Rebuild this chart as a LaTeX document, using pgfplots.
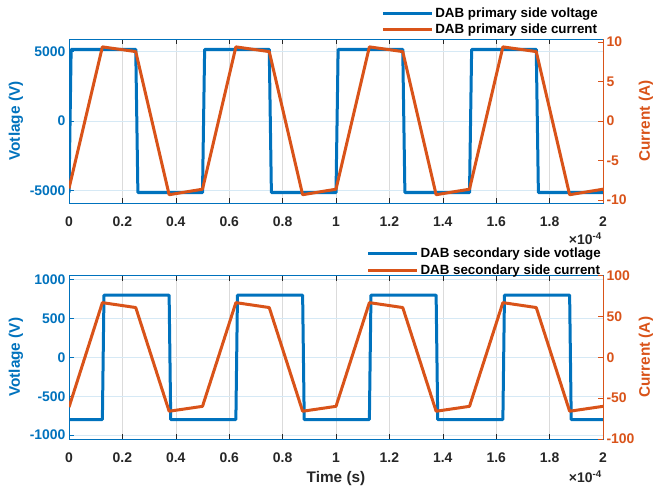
\documentclass[border=0pt]{standalone}
\usepackage{fontspec}
\setmainfont{Liberation Sans}
\usepackage{pgfplots}
\pgfplotsset{compat=1.18}

\definecolor{mblue}{RGB}{0,114,189}
\definecolor{morange}{RGB}{217,83,25}
\definecolor{mgray}{RGB}{38,38,38}
\newcommand{\tickfont}{\bfseries\fontsize{14}{16}\selectfont}
\newcommand{\labfont}{\bfseries\fontsize{15.4}{18}\selectfont}
\newcommand{\legfont}{\bfseries\fontsize{13.4}{15}\selectfont}

\pgfplotsset{
  dab/.style={
    scale only axis, width=534bp,
    xmin=0, xmax=2,
    xtick={0,0.2,0.4,0.6,0.8,1,1.2,1.4,1.6,1.8,2},
    xticklabels={0,0.2,0.4,0.6,0.8,1,1.2,1.4,1.6,1.8,2},
    scaled ticks=false,
    /pgf/number format/assume math mode=true,
    /pgf/number format/1000 sep={},
    tick label style={font=\tickfont},
    x tick label style={text=mgray, yshift=-10bp},
    tick align=inside,
    major tick length=5bp,
    axis line style={mgray, line width=0.6bp},
    xtick style={mgray, line width=0.6bp},
  },
  leftax/.style={
    dab, xtick pos=both, ytick pos=left,
    y axis line style={mblue},
    ytick style={mblue, line width=0.6bp},
    y tick label style={text=mblue},
    ylabel style={at={(axis description cs:-0.0993,0.5)}, anchor=center, font=\labfont, text=mblue},
    xmajorgrids, ymajorgrids,
    x grid style={black!14, line width=0.5bp},
    y grid style={mblue!16, line width=0.5bp},
    legend style={draw=none, fill=none, font=\legfont, at={(1,1)}, anchor=south east,
      inner sep=0pt, row sep=1.5bp},
    legend cell align=left,
    legend image code/.code={\draw[##1] (0bp,0bp) -- (49bp,0bp);},
  },
  rightax/.style={
    dab, axis x line=none, axis y line*=right,
    y axis line style={morange},
    ytick style={morange, line width=0.6bp},
    y tick label style={text=morange},
    ylabel style={at={(axis description cs:1.0805,0.5)}, anchor=center, font=\labfont, text=morange},
  },
  vline/.style={mblue, line width=3bp, line join=round},
  iline/.style={morange, line width=3bp, line join=round},
}

\begin{document}
\begin{tikzpicture}
\useasboundingbox (0,0) rectangle (657bp,489bp);

% ---- primary side ----
\begin{axis}[leftax, name=top, at={(69bp,286bp)}, height=164bp,
  ymin=-5900, ymax=5900, ytick={-5000,0,5000},
  ylabel={Votlage (V)},
  legend style={xshift=-3bp, yshift=1.5bp}]
\addplot[vline] coordinates {
  (0,-5150) (0.008,5150) (0.25,5150) (0.258,-5150)
  (0.5,-5150) (0.508,5150) (0.75,5150) (0.758,-5150)
  (1.0,-5150) (1.008,5150) (1.25,5150) (1.258,-5150)
  (1.5,-5150) (1.508,5150) (1.75,5150) (1.758,-5150) (2.0,-5150)};
\addlegendentry{DAB primary side voltage}
\addlegendimage{iline}
\addlegendentry{DAB primary side current}
\end{axis}
\begin{axis}[rightax, at={(69bp,286bp)}, height=164bp,
  ymin=-10.4, ymax=10.4, ytick={-10,-5,0,5,10},
  ylabel={Current (A)}]
\addplot[iline] coordinates {
  (0,-8.55) (0.125,9.4) (0.25,8.8) (0.375,-9.35)
  (0.5,-8.65) (0.625,9.4) (0.75,8.8) (0.875,-9.35)
  (1.0,-8.65) (1.125,9.4) (1.25,8.8) (1.375,-9.35)
  (1.5,-8.65) (1.625,9.4) (1.75,8.8) (1.875,-9.35) (2.0,-8.65)};
\end{axis}
\node[anchor=east, font=\tickfont, text=mgray, inner sep=0pt] at ([xshift=-1bp, yshift=-35.5bp]top.south east) {×10\textsuperscript{-4}};

% ---- secondary side ----
\begin{axis}[leftax, name=bot, at={(69bp,50bp)}, height=163.3bp,
  ymin=-1050, ymax=1050, ytick={-1000,-500,0,500,1000},
  ylabel={Votlage (V)},
  xlabel={Time (s)},
  xlabel style={at={(axis description cs:0.5,-0.245)}, anchor=center, font=\labfont, text=mgray},
  legend style={yshift=-2.5bp}]
\addplot[vline] coordinates {
  (0,-800) (0.125,-800) (0.131,800) (0.375,800) (0.381,-800)
  (0.625,-800) (0.631,800) (0.875,800) (0.881,-800)
  (1.125,-800) (1.131,800) (1.375,800) (1.381,-800)
  (1.625,-800) (1.631,800) (1.875,800) (1.881,-800) (2.0,-800)};
\addlegendentry{DAB secondary side votlage}
\addlegendimage{iline}
\addlegendentry{DAB secondary side current}
\end{axis}
\begin{axis}[rightax, at={(69bp,50bp)}, height=163.3bp,
  ymin=-100, ymax=100, ytick={-100,-50,0,50,100},
  ylabel={Current (A)}]
\addplot[iline] coordinates {
  (0,-61) (0.125,67) (0.25,61) (0.375,-66)
  (0.5,-60) (0.625,67) (0.75,61) (0.875,-66)
  (1.0,-60) (1.125,67) (1.25,61) (1.375,-66)
  (1.5,-60) (1.625,67) (1.75,61) (1.875,-66) (2.0,-60)};
\end{axis}
\node[anchor=east, font=\tickfont, text=mgray, inner sep=0pt] at ([xshift=-1bp, yshift=-38bp]bot.south east) {×10\textsuperscript{-4}};
\end{tikzpicture}
\end{document}
